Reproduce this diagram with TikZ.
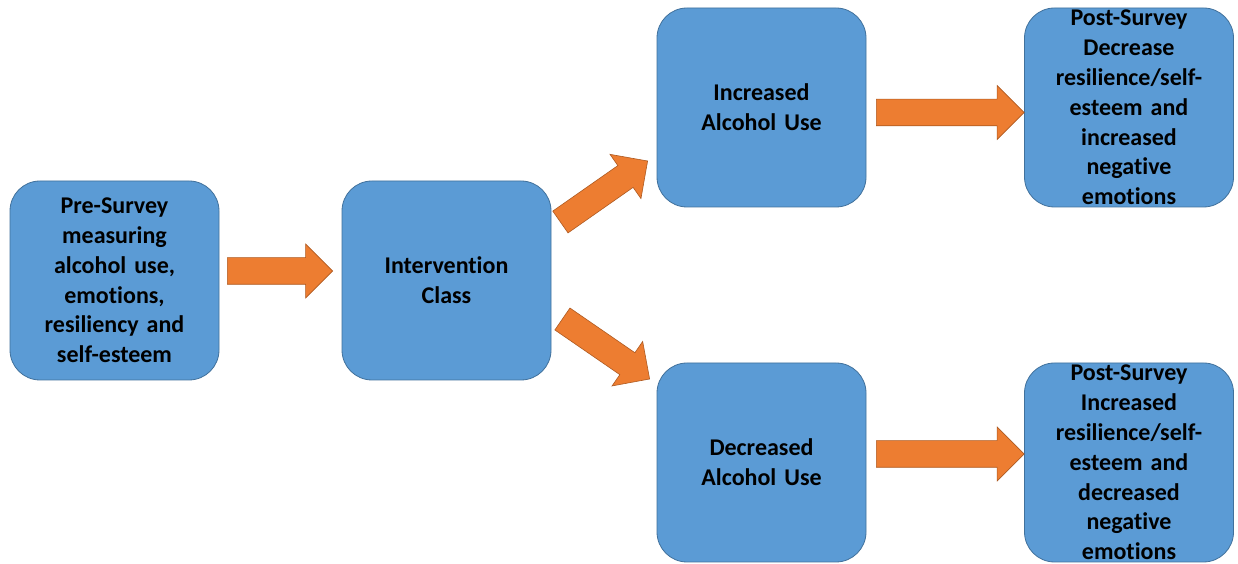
\documentclass[tikz,border=0pt]{standalone}
\usepackage{fontspec}
\setmainfont[Ligatures=NoCommon]{Carlito}
\usetikzlibrary{calc}
\definecolor{boxblue}{HTML}{5B9BD5}
\definecolor{boxedge}{HTML}{41719C}
\definecolor{arroworange}{HTML}{ED7D31}
\definecolor{arrowedge}{HTML}{AE5A21}
\tikzset{
  box/.style={draw=boxedge, line width=0.8pt, fill=boxblue, rounded corners=30pt,
    minimum width=209pt, minimum height=199pt, inner sep=0pt, align=center,
    text width=205pt, font=\fontsize{24}{29.8}\selectfont\bfseries},
  blockarrow/.style={draw=arrowedge, line width=0.6pt, fill=arroworange, line join=miter}
}
\newcommand\blockarrow[2]{%
  \coordinate (hh) at ($(#2)!27pt!(#1)$);
  \path[blockarrow]
    ($(#1)!13.3pt!90:(#2)$) -- ($(hh)!13.3pt!-90:(#1)$) -- ($(hh)!27pt!-90:(#1)$)
    -- (#2) -- ($(hh)!27pt!90:(#1)$) -- ($(hh)!13.3pt!90:(#1)$)
    -- ($(#1)!13.3pt!-90:(#2)$) -- cycle;}
\begin{document}
\begin{tikzpicture}[x=1pt,y=1pt]
\useasboundingbox[fill=white] (0,0) rectangle (1238,564);
\node[box] (pre) at (114.5,283.5) {Pre-Survey\\measuring\\alcohol use,\\emotions,\\resiliency and\\self-esteem};
\node[box] (int) at (446.5,283.5) {Intervention\\Class};
\node[box] (inc) at (761.5,456.5) {Increased\\Alcohol Use};
\node[box] (dec) at (761.5,101.5) {Decreased\\Alcohol Use};
\node[box] (pin) at (1129,456.5) {Post-Survey\\Decrease\\resilience/self-\\esteem and\\increased\\negative\\emotions};
\node[box] (pde) at (1129,101.5) {Post-Survey\\Increased\\resilience/self-\\esteem and\\decreased\\negative\\emotions};
% arrow ends
\coordinate (a1) at ($(pre.east)+(8,9.5)$);
\coordinate (b1) at ($(int.west)+(-9,9.5)$);
\coordinate (a2) at ($(int.east)+(9,58.5)$);
\coordinate (b2) at ($(inc.west)+(-9,-53.5)$);
\coordinate (a3) at ($(int.east)+(11,-38.5)$);
\coordinate (b3) at ($(dec.west)+(-7,83.5)$);
\coordinate (a4) at ($(inc.east)+(10,-5)$);
\coordinate (b4) at ($(pin.west)+(0,-5)$);
\coordinate (a5) at ($(dec.east)+(10,8.5)$);
\coordinate (b5) at ($(pde.west)+(0,8.5)$);
\blockarrow{a1}{b1}
\blockarrow{a2}{b2}
\blockarrow{a3}{b3}
\blockarrow{a4}{b4}
\blockarrow{a5}{b5}
\end{tikzpicture}
\end{document}
